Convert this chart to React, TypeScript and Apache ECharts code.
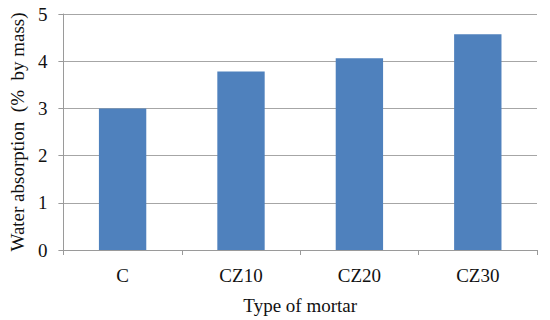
import React, { useEffect, useRef } from "react";
import * as echarts from "echarts";

const categories = ["C", "CZ10", "CZ20", "CZ30"];
const values = [3.0, 3.78, 4.06, 4.57];
const yTicks = { min: 0, max: 5, interval: 1 };
const xTitle = "Type of mortar";
const yTitle = "Water absorption  (%  by mass)";

const FONT = "'Liberation Serif', 'DejaVu Serif', serif";

export default function App() {
  const ref = useRef<HTMLDivElement>(null);
  useEffect(() => {
    if (!ref.current) return;
    const chart = echarts.init(ref.current, undefined, { renderer: "svg" });
    chart.setOption({
      animation: false,
      textStyle: { fontFamily: FONT },
      grid: { left: 62, right: 13, top: 14, bottom: 69 },
      xAxis: {
        type: "category",
        data: categories,
        name: xTitle,
        nameLocation: "middle",
        nameGap: 46,
        nameTextStyle: { fontFamily: FONT, fontSize: 19, color: "#111" },
        axisLine: { lineStyle: { color: "#9a9a9a" } },
        axisTick: { show: true, length: 5, alignWithLabel: false, lineStyle: { color: "#9a9a9a" } },
        axisLabel: { fontFamily: FONT, fontSize: 19, color: "#111", margin: 16 },
      },
      yAxis: {
        type: "value",
        min: yTicks.min,
        max: yTicks.max,
        interval: yTicks.interval,
        name: yTitle,
        nameLocation: "middle",
        nameGap: 33,
        nameTextStyle: { fontFamily: FONT, fontSize: 19, color: "#111" },
        axisLine: { show: true, lineStyle: { color: "#9a9a9a" } },
        axisTick: { show: true, length: 5, lineStyle: { color: "#9a9a9a" } },
        axisLabel: { fontFamily: FONT, fontSize: 19, color: "#111", margin: 16 },
        splitLine: { lineStyle: { color: "#a6a6a6" } },
      },
      series: [
        {
          type: "bar",
          data: values,
          barWidth: "40%",
          itemStyle: { color: "#4F81BD" },
        },
      ],
    });
    return () => chart.dispose();
  }, []);
  return <div ref={ref} style={{ width: 550, height: 320, position: "absolute", left: 0, top: 0 }} />;
}
